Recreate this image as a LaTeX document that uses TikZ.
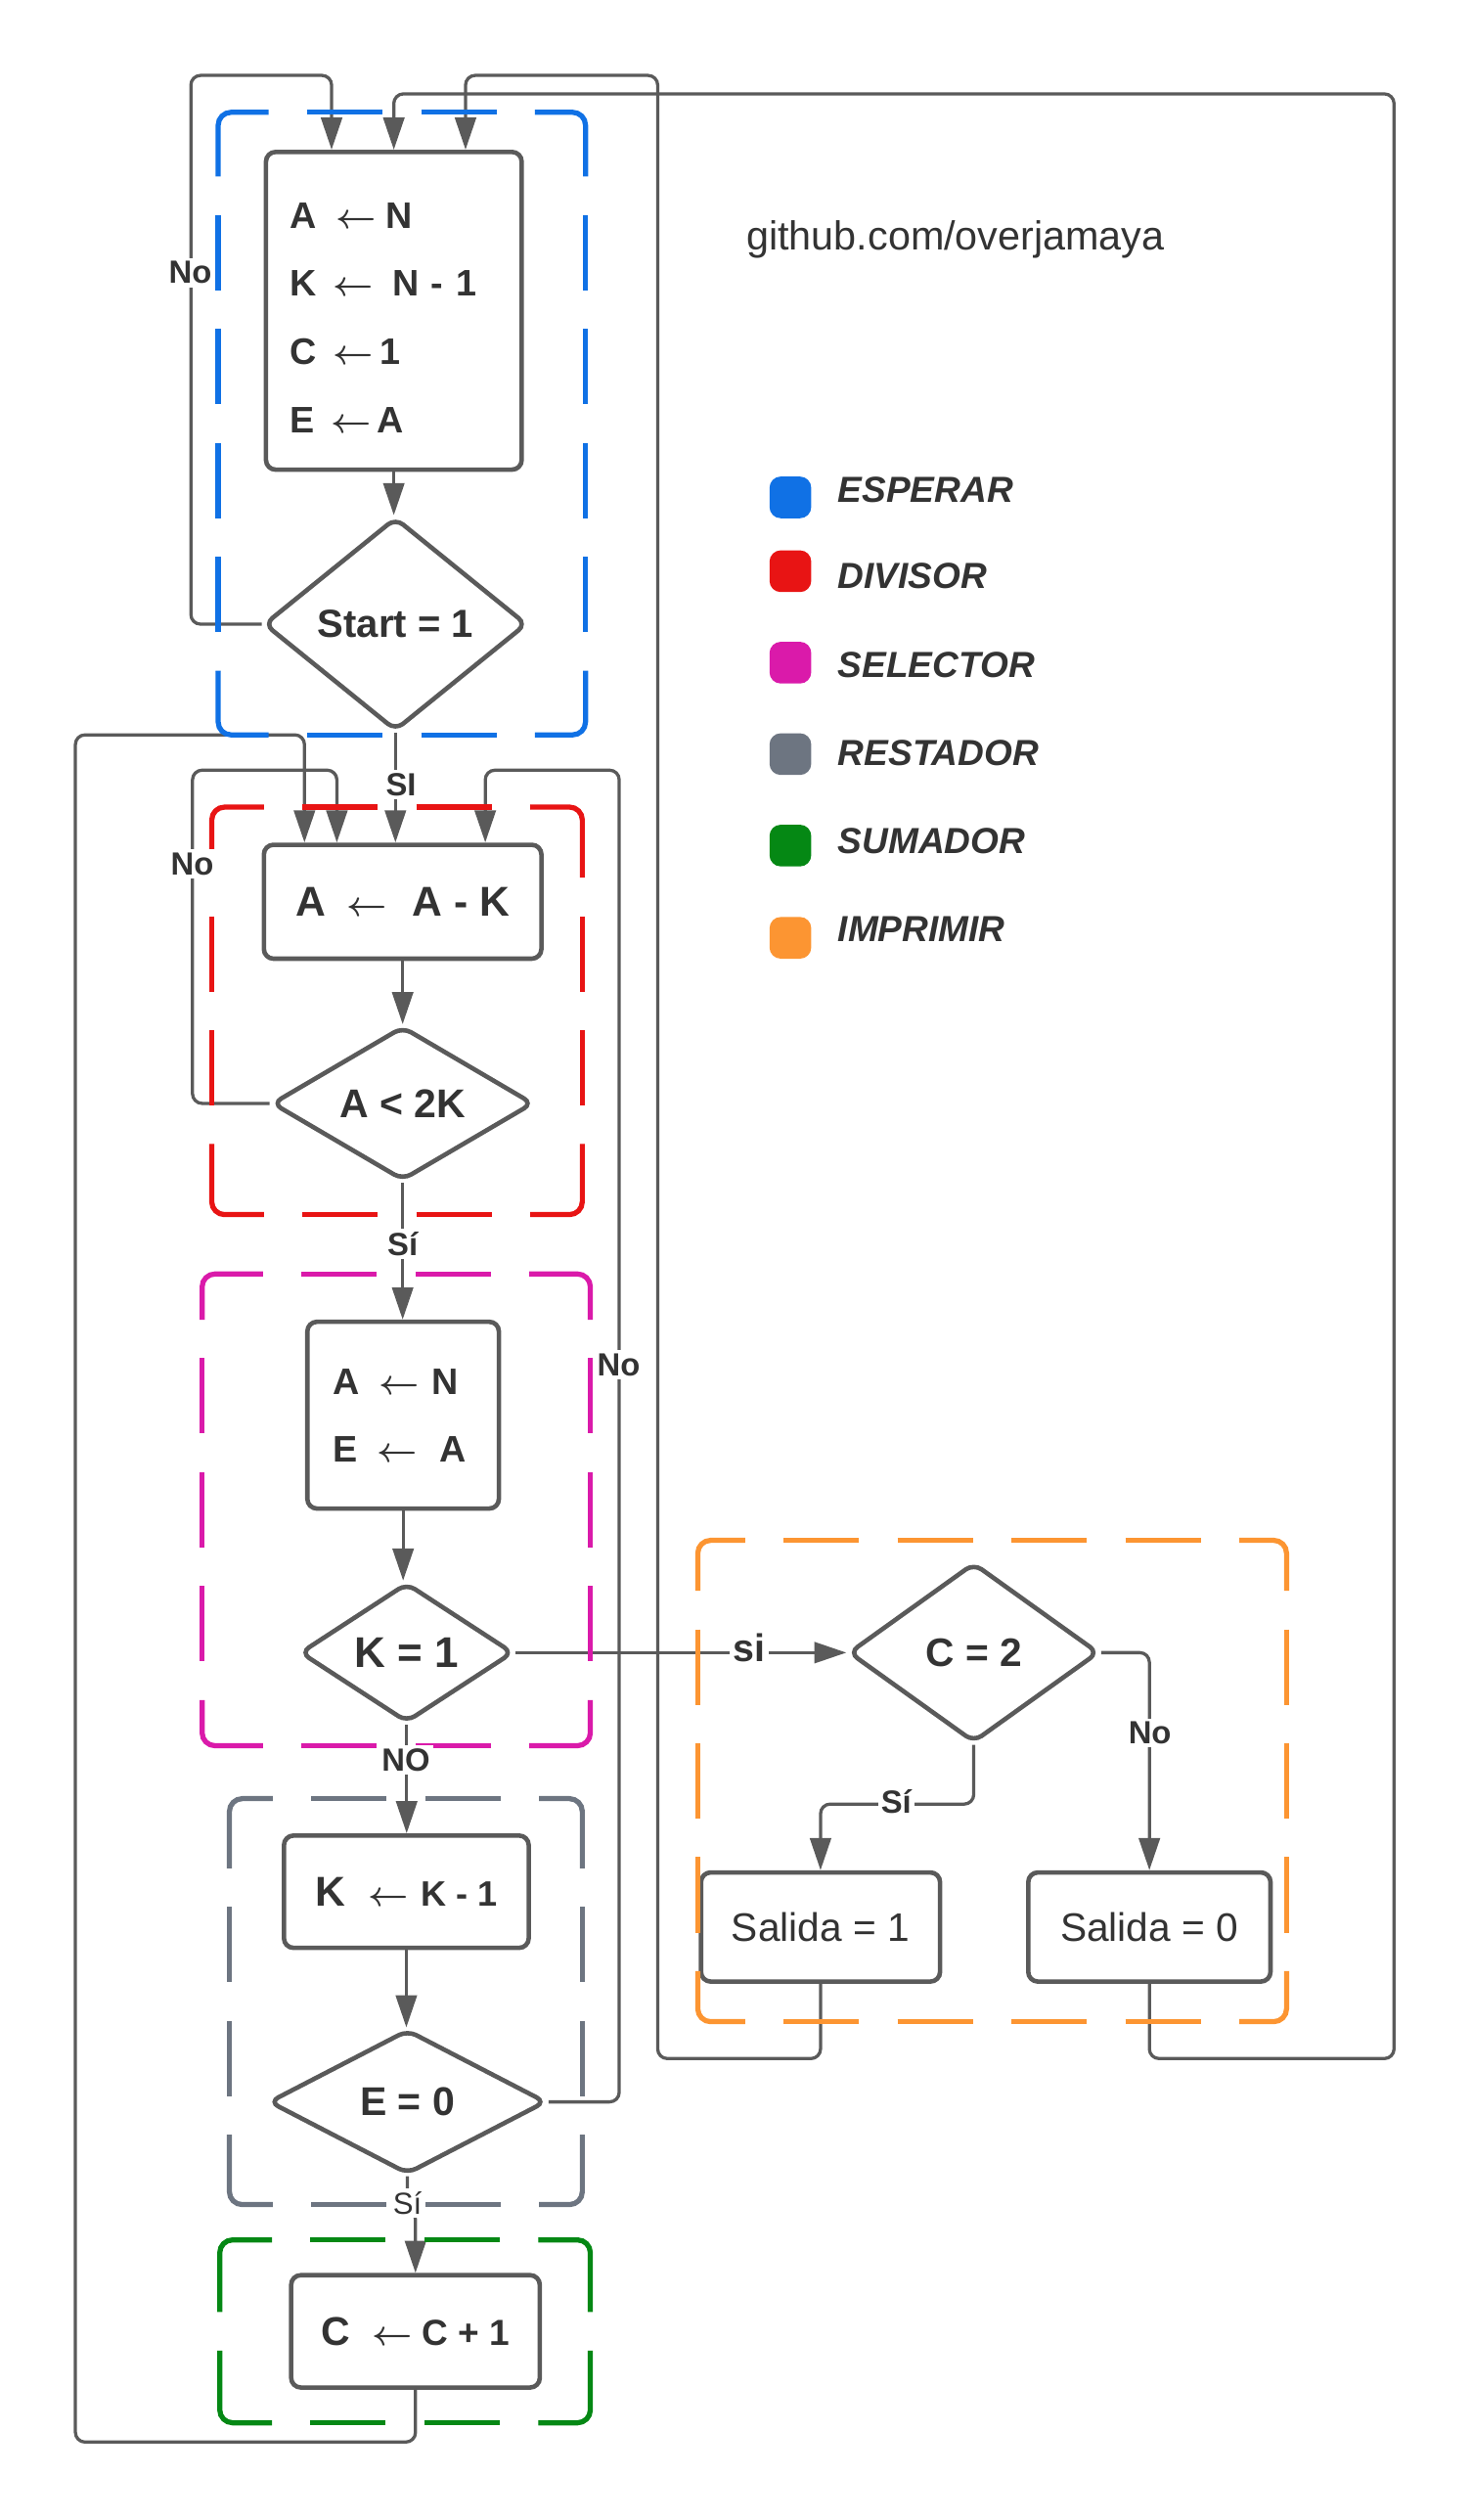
\documentclass[tikz,border=0pt]{standalone}
\usepackage{fontspec}
\setmainfont{Liberation Sans}
\usetikzlibrary{shapes.geometric, arrows.meta, positioning}

\definecolor{esperar}{HTML}{1071E5}
\definecolor{divisor}{HTML}{E81414}
\definecolor{selector}{HTML}{DA1AAA}
\definecolor{restador}{HTML}{6D7581}
\definecolor{sumador}{HTML}{058814}
\definecolor{imprimir}{HTML}{FC9532}
\definecolor{linegray}{HTML}{5A5A5A}
\definecolor{textgray}{HTML}{333333}

\newcommand{\asg}{{\fontsize{10.5pt}{12pt}\selectfont\boldmath$\leftarrow$}}

% dashed frame of a block: solid corners, dashes spread along each side
\newcommand{\grp}[5]{%
    \pgfmathsetmacro{\grpw}{#4-#2}
    \pgfmathsetmacro{\grph}{#5-#3}
    \pgfmathsetmacro{\grpnw}{floor((\grpw-47)/71)}
    \pgfmathsetmacro{\grpnh}{floor((\grph-47)/71)}
    \pgfmathsetmacro{\grpcw}{(\grpw-47*\grpnw-24*(\grpnw+1))/2}
    \pgfmathsetmacro{\grpch}{(\grph-47*\grpnh-24*(\grpnh+1))/2}
    \draw [group, #1] (#2,#3+\grpch) -- (#2,#3) -- (#2+\grpcw,#3);
    \draw [group, #1] (#4-\grpcw,#3) -- (#4,#3) -- (#4,#3+\grpch);
    \draw [group, #1] (#4,#5-\grpch) -- (#4,#5) -- (#4-\grpcw,#5);
    \draw [group, #1] (#2+\grpcw,#5) -- (#2,#5) -- (#2,#5-\grpch);
    \draw [group, #1, dashes] (#2+\grpcw,#3) -- (#4-\grpcw,#3);
    \draw [group, #1, dashes] (#2+\grpcw,#5) -- (#4-\grpcw,#5);
    \draw [group, #1, dashes] (#2,#3+\grpch) -- (#2,#5-\grpch);
    \draw [group, #1, dashes] (#4,#3+\grpch) -- (#4,#5-\grpch);
}

\begin{document}
\begin{tikzpicture}[x=0.5pt, y=-0.5pt]
    \tikzstyle{box} = [rectangle, rounded corners=3pt, draw=linegray, line width=1.4pt, fill=white, text=textgray, inner sep=0pt, font=\fontsize{12.5pt}{15pt}\selectfont\bfseries]
    \tikzstyle{cond} = [diamond, rounded corners=3pt, draw=linegray, line width=1.4pt, fill=white, text=textgray, inner sep=0pt, font=\fontsize{12.5pt}{15pt}\selectfont\bfseries]
    \tikzstyle{flow} = [draw=linegray, line width=1pt, rounded corners=3pt, -{Triangle[length=10pt,width=6.5pt]}]
    \tikzstyle{lbl} = [fill=white, text=textgray, inner sep=1pt, font=\fontsize{10pt}{12pt}\selectfont\bfseries]
    \tikzstyle{group} = [line width=1.6pt, rounded corners=4pt]
    \tikzstyle{dashes} = [rounded corners=0pt, dash pattern=on 23.5pt off 12pt, dash phase=23.5pt]
    \tikzstyle{key} = [rectangle, rounded corners=3.5pt, minimum size=13pt, inner sep=0pt]
    \tikzstyle{keytext} = [anchor=base west, text=textgray, inner sep=0pt, font=\fontsize{11.3pt}{13pt}\selectfont\bfseries\itshape]

    \useasboundingbox (0,0) rectangle (917,1570.6);

    % ESPERAR
    \node (init) [box, align=left, text width=64.7pt, inner xsep=7.5pt, minimum height=99pt, font=\fontsize{11.5pt}{21.3pt}\selectfont\bfseries] at (245.5,193.7)
        {\rule{0pt}{12.3pt}A\hspace{6pt}\asg\hspace{3pt}N\\K\hspace{5pt}\asg\hspace{6pt}N - 1\\C\hspace{5pt}\asg\hspace{2pt}1\\E\hspace{5pt}\asg\hspace{2pt}A};
    \node (start) [cond, minimum width=82pt, minimum height=66.5pt, font=\fontsize{12.2pt}{15pt}\selectfont\bfseries] at (246.5,389) {Start = 1};

    % DIVISOR
    \node (sub) [box, minimum width=86.5pt, minimum height=35.5pt, font=\fontsize{13pt}{15pt}\selectfont\bfseries] at (251,562) {A\hspace{6.5pt}\asg\hspace{8pt}A - K};
    \node (lt2k) [cond, minimum width=81.5pt, minimum height=44.5pt] at (251,687.7) {A < 2K};

    % SELECTOR
    \node (sel) [box, align=left, text width=43.7pt, inner xsep=8pt, minimum height=58.2pt, font=\fontsize{11.5pt}{21pt}\selectfont\bfseries] at (251.3,882)
        {A\hspace{6pt}\asg\hspace{4pt}N\\E\hspace{6pt}\asg\hspace{7pt}A};
    \node (k1) [cond, minimum width=66.5pt, minimum height=43.5pt, font=\fontsize{13.4pt}{15pt}\selectfont\bfseries] at (253.5,1030) {K = 1};

    % RESTADOR
    \node (dec) [box, minimum width=76.3pt, minimum height=35pt, font=\fontsize{11pt}{15pt}\selectfont\bfseries] at (253.3,1179)
        {{\fontsize{13pt}{15pt}\selectfont K}\hspace{7pt}\asg\hspace{4pt}K - 1};
    \node (e0) [cond, minimum width=86.5pt, minimum height=45pt] at (254,1310) {E = 0};

    % SUMADOR
    \node (inc) [box, minimum width=77.5pt, minimum height=35pt, font=\fontsize{11.3pt}{15pt}\selectfont\bfseries] at (259,1453)
        {{\fontsize{12.5pt}{15pt}\selectfont C}\hspace{7pt}\asg\hspace{3pt}C + 1};

    % IMPRIMIR
    \node (c2) [cond, minimum width=78pt, minimum height=56pt, font=\fontsize{12.4pt}{15pt}\selectfont\bfseries] at (607,1030) {C = 2};
    \node (out1) [box, minimum width=74.5pt, minimum height=34pt, font=\fontsize{12.4pt}{15pt}\selectfont] at (511.5,1201) {Salida = 1};
    \node (out0) [box, minimum width=75.5pt, minimum height=34pt, font=\fontsize{12.4pt}{15pt}\selectfont] at (716.5,1201) {Salida = 0};

    % connectors
    \draw [flow] (init.south) -- (init.south |- start.north);
    \draw [flow] (start.west) -| (119,47) -| ([xshift=-19.4pt]init.north);
    \draw [flow] (out1.south) |- (410,1283) -- (410,47) -| ([xshift=22.35pt]init.north);
    \draw [flow] (out0.south) |- (869,1283) -- (869,58.5) -| (init.north);
    \draw [flow] (start.south) -- (start.south |- sub.north);
    \draw [flow] (sub.south) -- (sub.south |- lt2k.north);
    \draw [flow] (lt2k.west) -| (120,480) -| ([xshift=-20.5pt]sub.north);
    \draw [flow] (inc.south) |- (47,1522) -- (47,458) -| ([xshift=-30.6pt]sub.north);
    \draw [flow] (e0.east) -| (386,480) -| ([xshift=25.75pt]sub.north);
    \draw [flow] (lt2k.south) -- (lt2k.south |- sel.north);
    \draw [flow] (sel.south) -- (sel.south |- k1.north);
    \draw [flow] (k1.east) -- (k1.east -| c2.west);
    \draw [flow] (k1.south) -- (k1.south |- dec.north);
    \draw [flow] (dec.south) -- (dec.south |- e0.north);
    \draw [flow] (e0.south) -- ++(0,21) -| (inc.north);
    \draw [flow] (c2.south) -- ++(0,37) -| (out1.north);
    \draw [flow] (c2.east) -| (out0.north);

    % groups
    \grp{esperar}{136}{70}{365}{458}
    \grp{divisor}{132}{503}{363}{757}
    \grp{selector}{126}{794}{368}{1088}
    \grp{restador}{143}{1121}{363}{1374}
    \grp{sumador}{137}{1396}{368}{1510}
    \grp{imprimir}{435}{960}{802}{1260}

    % labels
    \node (lno1) [lbl] at (118.6,170) {No};
    \node (lsi1) [lbl] at (250,488.8) {SI};
    \node (lno2) [lbl] at (119.8,538.4) {No};
    \node (lsi2) [lbl] at (251,775.4) {Sí};
    \node (lno3) [lbl] at (385.7,850.6) {No};
    \node (lno4) [lbl] at (253,1096.8) {NO};
    \node (lsi3) [lbl, font=\fontsize{9.5pt}{11pt}\selectfont] at (254,1373) {Sí};
    \node (lsi4) [lbl, font=\fontsize{12pt}{14pt}\selectfont\bfseries] at (467,1026.7) {si};
    \node (lsi5) [lbl] at (558.7,1123) {Sí};
    \node (lno5) [lbl] at (716.8,1080) {No};

    % legend
    \node (web) [anchor=base west, text=textgray, inner sep=0pt, font=\fontsize{12.6pt}{15pt}\selectfont] at (465,155.5) {github.com/overjamaya};
    \foreach \name/\col/\ky/\ty in {ESPERAR/esperar/310/313, DIVISOR/divisor/356/367, SELECTOR/selector/413/422, RESTADOR/restador/470/477, SUMADOR/sumador/527/532, IMPRIMIR/imprimir/584.5/587} {
        \node (key\col) [key, fill=\col] at (492.7,\ky) {};
        \node (txt\col) [keytext] at (522,\ty) {\name};
    }

\end{tikzpicture}
\end{document}
